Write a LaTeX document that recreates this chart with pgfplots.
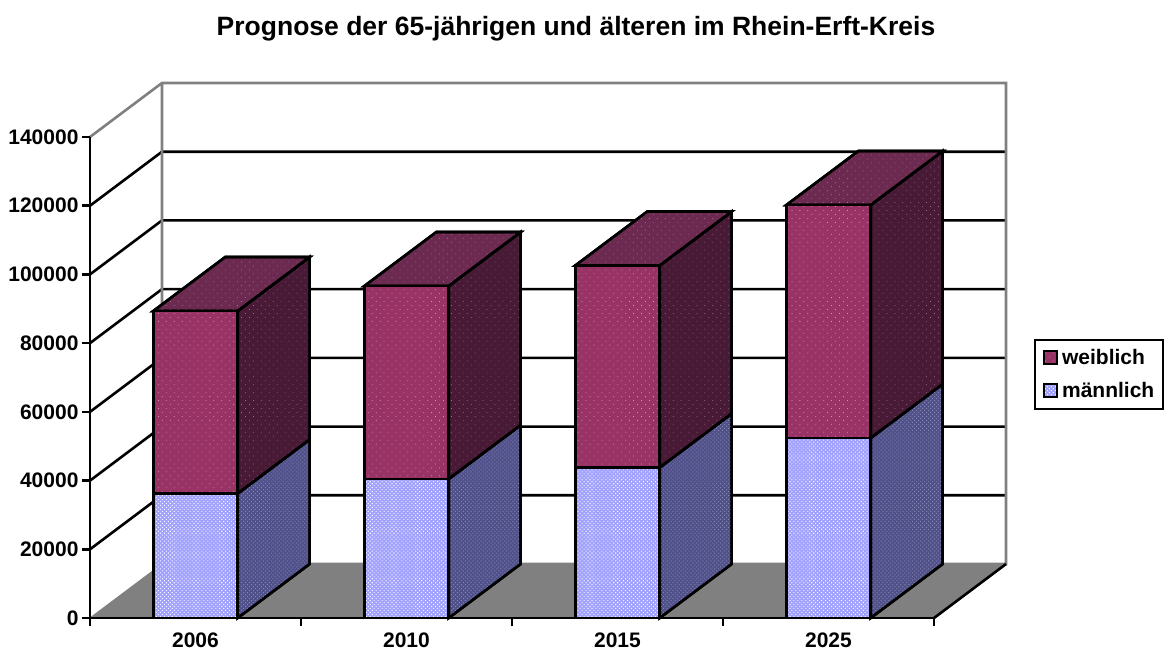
\documentclass[border=0pt]{standalone}
\usepackage{pgfplots}
\pgfplotsset{compat=1.18}
\usepackage{fontspec}
\setmainfont{Liberation Sans}
\usetikzlibrary{patterns.meta}
\definecolor{femfront}{HTML}{993366}
\definecolor{femside}{HTML}{481A36}
\definecolor{femtop}{HTML}{6C2A50}
\definecolor{malefront}{HTML}{A0A0FF}
\definecolor{maleside}{HTML}{50508A}
\definecolor{wallgray}{HTML}{808080}
\tikzset{
 femF/.style={fill=femfront,draw=black,line width=2.6pt,postaction={pattern={Dots[angle=45,distance=5.6pt,radius=.55pt]},pattern color=femfront!50!white}},
 femS/.style={fill=femside,draw=black,line width=2.6pt,postaction={pattern={Dots[angle=45,distance=5.6pt,radius=.5pt]},pattern color=femside!60!white}},
 femT/.style={fill=femtop,draw=black,line width=2.6pt,postaction={pattern={Dots[angle=45,distance=5.6pt,radius=.5pt]},pattern color=femtop!60!white}},
 maleF/.style={fill=malefront,draw=black,line width=2.6pt,postaction={pattern={Dots[angle=45,distance=2.8pt,radius=.75pt]},pattern color=white!90!malefront}},
 maleS/.style={fill=maleside,draw=black,line width=2.6pt,postaction={pattern={Dots[angle=45,distance=2.8pt,radius=.7pt]},pattern color=maleside!70!white}},
}
\pgfplotsset{common/.style={
  scale only axis,width=844pt,height=481pt,
  xmin=0,xmax=4,ymin=0,ymax=140000,
  clip=false,anchor=south west,at={(90pt,36pt)},
}}
\begin{document}
\begin{tikzpicture}
\path[use as bounding box] (0,0) rectangle (1165pt,654pt);
\node[font=\bfseries\fontsize{26.5}{30}\selectfont,anchor=center] at (576pt,625pt) {Prognose der 65-jährigen und älteren im Rhein-Erft-Kreis};
\begin{axis}[common,hide axis]
% floor
\addplot[fill=wallgray,draw=none] coordinates {(0,0) (4,0) (4.3412,15716) (0.3412,15716)} -- cycle;
% grid lines
\addplot[black,line width=2.6pt] coordinates {(0,20000) (0.3412,35716) (4.3412,35716)};
\addplot[black,line width=2.6pt] coordinates {(0,40000) (0.3412,55716) (4.3412,55716)};
\addplot[black,line width=2.6pt] coordinates {(0,60000) (0.3412,75716) (4.3412,75716)};
\addplot[black,line width=2.6pt] coordinates {(0,80000) (0.3412,95716) (4.3412,95716)};
\addplot[black,line width=2.6pt] coordinates {(0,100000) (0.3412,115716) (4.3412,115716)};
\addplot[black,line width=2.6pt] coordinates {(0,120000) (0.3412,135716) (4.3412,135716)};
% walls
\addplot[wallgray,line width=2.6pt] coordinates {(0,140000) (0.3412,155716) (4.3412,155716) (4.3412,15716) (0.3412,15716) (0.3412,155716)};
\addplot[wallgray,line width=1pt] coordinates {(0,0) (0.3412,15716)};
\addplot[black,line width=2.6pt] coordinates {(4,0) (4.3412,15716)};
% 2006
\addplot[maleS] coordinates {(0.7,0) (1.0412,15716) (1.0412,51946) (0.7,36230)} -- cycle;
\addplot[femS] coordinates {(0.7,36230) (1.0412,51946) (1.0412,105066) (0.7,89350)} -- cycle;
\addplot[femT] coordinates {(0.3,89350) (0.7,89350) (1.0412,105066) (0.6412,105066)} -- cycle;
% 2010
\addplot[maleS] coordinates {(1.7,0) (2.0412,15716) (2.0412,56166) (1.7,40450)} -- cycle;
\addplot[femS] coordinates {(1.7,40450) (2.0412,56166) (2.0412,112336) (1.7,96620)} -- cycle;
\addplot[femT] coordinates {(1.3,96620) (1.7,96620) (2.0412,112336) (1.6412,112336)} -- cycle;
% 2015
\addplot[maleS] coordinates {(2.7,0) (3.0412,15716) (3.0412,59516) (2.7,43800)} -- cycle;
\addplot[femS] coordinates {(2.7,43800) (3.0412,59516) (3.0412,118316) (2.7,102600)} -- cycle;
\addplot[femT] coordinates {(2.3,102600) (2.7,102600) (3.0412,118316) (2.6412,118316)} -- cycle;
% 2025
\addplot[maleS] coordinates {(3.7,0) (4.0412,15716) (4.0412,68106) (3.7,52390)} -- cycle;
\addplot[femS] coordinates {(3.7,52390) (4.0412,68106) (4.0412,135916) (3.7,120200)} -- cycle;
\addplot[femT] coordinates {(3.3,120200) (3.7,120200) (4.0412,135916) (3.6412,135916)} -- cycle;
\end{axis}
\begin{axis}[common,
  ybar stacked,bar width=0.4,
  axis x line=bottom,axis y line=left,axis line style={-,line width=2.6pt,black},
  xtick={0,1,2,3,4},xticklabels={2006,2010,2015,2025},x tick label as interval,
  ytick={0,20000,...,140000},
  scaled y ticks=false,
  /pgf/number format/fixed,/pgf/number format/1000 sep={},/pgf/number format/assume math mode=true,
  ticklabel style={font=\bfseries\fontsize{21}{24}\selectfont},
  tick align=outside,major tick length=8pt,tick style={black,line width=2.6pt},
  xtick pos=bottom,ytick pos=left,
  xticklabel style={yshift=-3pt},
  legend cell align=left,reverse legend,
  legend style={at={(1.118,0.58)},anchor=north west,
    draw=black,line width=2pt,font=\bfseries\fontsize{21}{24}\selectfont,
    inner xsep=8pt,inner ysep=8.5pt,row sep=14.5pt,column sep=3.5pt,nodes={inner sep=1pt}},
  legend image code/.code={\draw[#1,line width=2pt] (0pt,-6pt) rectangle (13pt,7pt);},
]
\addplot[maleF] coordinates {(0.5,36230) (1.5,40450) (2.5,43800) (3.5,52390)};
\addplot[femF] coordinates {(0.5,53120) (1.5,56170) (2.5,58800) (3.5,67810)};
\legend{männlich,weiblich}
\end{axis}
\end{tikzpicture}
\end{document}
